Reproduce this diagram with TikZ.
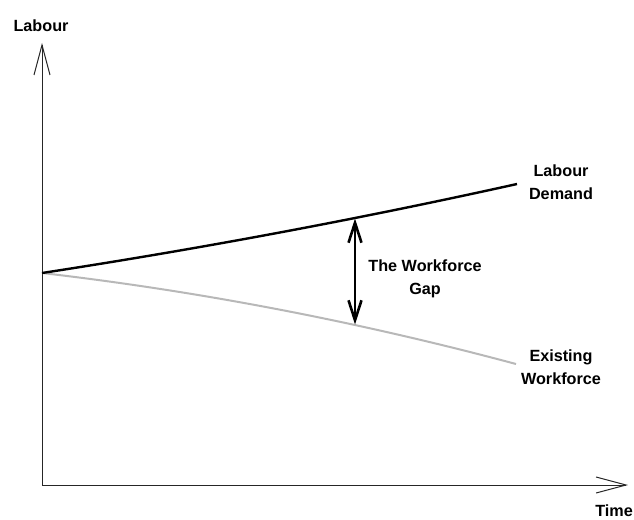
\documentclass[tikz,border=0pt]{standalone}
\usepackage{fontspec}
\setmainfont{Liberation Sans}
\usetikzlibrary{arrows.meta}
\begin{document}
\begin{tikzpicture}[x=1pt,y=-1pt,
  lbl/.style={font=\fontsize{16.2}{23}\selectfont\bfseries, align=center, inner sep=0pt},
  axisline/.style={line width=1pt, draw=black!85},
  axistip/.style={-{Straight Barb[length=30pt,width=16pt,line width=1pt]}},
  demandline/.style={line width=2.4pt, draw=black},
  workline/.style={line width=2pt, draw=black!28},
  gaparrow/.style={line width=2.6pt, {Straight Barb[length=20pt,width=13pt,line width=2.6pt]}-{Straight Barb[length=20pt,width=13pt,line width=2.6pt]}}
]
\useasboundingbox (0,0) rectangle (634,519);
\coordinate (origin) at (42,485);
\coordinate (ytip) at (42,43);
\coordinate (xtip) at (628,485);
\coordinate (start) at (42,273);
\coordinate (dend) at (517,184);
\coordinate (wend) at (516,364);
\coordinate (gtop) at (355,218.5);
\coordinate (gbot) at (355,324.5);
% axes
\draw[axisline, axistip] (origin) -- (ytip);
\draw[axisline, axistip] (origin) -- (xtip);
% curves
\draw[workline] (start) .. controls (200,291.3) and (358,321.7) .. (wend);
\draw[demandline] (start) .. controls (200.3,248.7) and (358.7,219.1) .. (dend);
% gap arrow
\draw[gaparrow] (gtop) -- (gbot);
% labels
\node[lbl] (ylab) at (41,26) {Labour};
\node[lbl] (xlab) at (614,511) {Time};
\node[lbl] (dlab) at (561,182.5) {Labour\\Demand};
\node[lbl] (wlab) at (561,367.5) {Existing\\Workforce};
\node[lbl] (glab) at (425,278.5) {The Workforce\\Gap};
\end{tikzpicture}
\end{document}
